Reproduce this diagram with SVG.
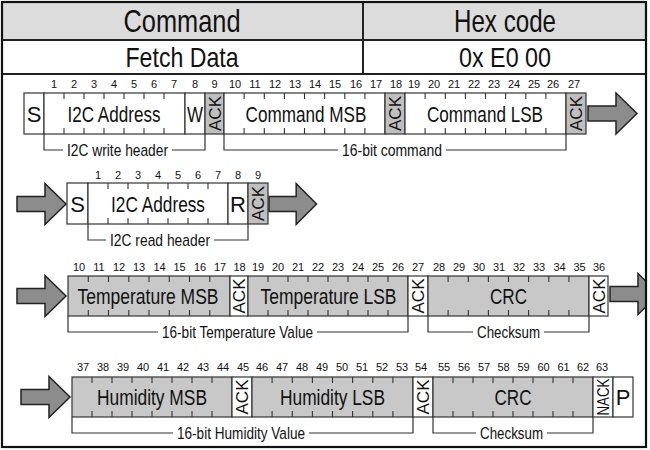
<svg xmlns="http://www.w3.org/2000/svg" width="650" height="450" viewBox="0 0 650 450">
<style>
text{font-family:"Liberation Sans Narrow","Liberation Sans",Arial,sans-serif;fill:#111}
.hd{font-size:32px;text-anchor:middle}
.hd2{font-size:28px;text-anchor:middle}
.lbl{font-size:22px;text-anchor:middle}
.num{font-size:11px;text-anchor:middle}
.ack{font-size:17px;text-anchor:middle}
.br{font-size:17px;text-anchor:middle}
.cw{fill:#fff;stroke:#333;stroke-width:1.2}
.cg{fill:#bfbfbf;stroke:#333;stroke-width:1.2}
.cf{fill:#c8c8c8;stroke:#333;stroke-width:1.2}
.tk{fill:none;stroke:#333;stroke-width:1.1}
.bl{fill:none;stroke:#333;stroke-width:1.2}
.ar{fill:#8c8c8c;stroke:#222;stroke-width:1.5;stroke-linejoin:miter}
</style>
<defs>
<path id="arrow" d="M0,-7.5 H28 V-20.5 L49,0 L28,20.5 V7.5 H0 Z"/>
<clipPath id="frameclip"><rect x="2" y="2" width="644" height="445"/></clipPath>
</defs>
<rect x="0" y="0" width="650" height="450" fill="#fff"/>

<g id="table">
<rect x="2" y="2" width="644" height="38" fill="#dcdcdc"/>
<line x1="2" y1="40" x2="646" y2="40" stroke="#222" stroke-width="2"/>
<line x1="2" y1="74" x2="646" y2="74" stroke="#222" stroke-width="2"/>
<line x1="363" y1="2" x2="363" y2="74" stroke="#222" stroke-width="2"/>
<text class="hd" x="182" y="32" textLength="117" lengthAdjust="spacingAndGlyphs">Command</text>
<text class="hd" x="505" y="32" textLength="102" lengthAdjust="spacingAndGlyphs">Hex code</text>
<text class="hd2" x="182" y="67" textLength="113" lengthAdjust="spacingAndGlyphs">Fetch Data</text>
<text class="hd2" x="505" y="67" textLength="92" lengthAdjust="spacingAndGlyphs">0x E0 00</text>
</g>

<g id="connectors">
<g clip-path="url(#frameclip)">
<use href="#arrow" class="ar" transform="translate(588,113.5)"/>
<use href="#arrow" class="ar" transform="translate(17,204)"/>
<use href="#arrow" class="ar" transform="translate(269,204) scale(0.97,1)"/>
<use href="#arrow" class="ar" transform="translate(17,296)"/>
<use href="#arrow" class="ar" transform="translate(610,294)"/>
<use href="#arrow" class="ar" transform="translate(21,397)"/>
</g>
<path class="bl" d="M44,134 V150 H63 M172,150 H205 V134"/>
<path class="bl" d="M224,134 V150 H338 M446,150 H566 V134"/>
<path class="bl" d="M88,224 V240 H106 M214,240 H248 V224"/>
<path class="bl" d="M68,316 V332 H158 M317,332 H408 V316"/>
<path class="bl" d="M428,316 V332 H473 M544,332 H589 V316"/>
<path class="bl" d="M72,417 V433 H173 M309,433 H413 V417"/>
<path class="bl" d="M433,417 V433 H476 M547,433 H593 V417"/>
<text class="br" x="117.5" y="156" textLength="101" lengthAdjust="spacingAndGlyphs">I2C write header</text>
<text class="br" x="392" y="156" textLength="100" lengthAdjust="spacingAndGlyphs">16-bit command</text>
<text class="br" x="160" y="246" textLength="100" lengthAdjust="spacingAndGlyphs">I2C read header</text>
<text class="br" x="237.5" y="338" textLength="151" lengthAdjust="spacingAndGlyphs">16-bit Temperature Value</text>
<text class="br" x="508.5" y="338" textLength="63" lengthAdjust="spacingAndGlyphs">Checksum</text>
<text class="br" x="241" y="439" textLength="128" lengthAdjust="spacingAndGlyphs">16-bit Humidity Value</text>
<text class="br" x="511.5" y="439" textLength="63" lengthAdjust="spacingAndGlyphs">Checksum</text>
</g>

<!-- Row 1: write header + command -->
<g id="row1-start"><rect class="cw" x="24" y="93" width="20" height="41"/><text class="lbl" x="34" y="121.5">S</text></g>
<g id="row1-addr"><rect class="cw" x="44" y="93" width="141" height="41"/>
<path class="tk" d="M64,93v6M84,93v6M104,93v6M124,93v6M144,93v6M164,93v6M64,134v-6M84,134v-6M104,134v-6M124,134v-6M144,134v-6M164,134v-6"/>
<text class="lbl" x="114" y="121.5" textLength="93" lengthAdjust="spacingAndGlyphs">I2C Address</text></g>
<g id="row1-w"><rect class="cw" x="185" y="93" width="20" height="41"/><text class="lbl" x="195" y="121.5" textLength="16" lengthAdjust="spacingAndGlyphs">W</text></g>
<g id="row1-ack1"><rect class="cg" x="205" y="93" width="19" height="41"/><text class="ack" transform="translate(214.5,113.5) rotate(-90)" y="6" textLength="35" lengthAdjust="spacingAndGlyphs">ACK</text></g>
<g id="row1-msb"><rect class="cw" x="224" y="93" width="161" height="41"/>
<path class="tk" d="M244.1,93v6M264.3,93v6M284.4,93v6M304.5,93v6M324.6,93v6M344.8,93v6M364.9,93v6M244.1,134v-6M264.3,134v-6M284.4,134v-6M304.5,134v-6M324.6,134v-6M344.8,134v-6M364.9,134v-6"/>
<text class="lbl" x="306" y="121.5" textLength="121" lengthAdjust="spacingAndGlyphs">Command MSB</text></g>
<g id="row1-ack2"><rect class="cg" x="385" y="93" width="20" height="41"/><text class="ack" transform="translate(395,113.5) rotate(-90)" y="6" textLength="35" lengthAdjust="spacingAndGlyphs">ACK</text></g>
<g id="row1-lsb"><rect class="cw" x="405" y="93" width="161" height="41"/>
<path class="tk" d="M425.1,93v6M445.3,93v6M465.4,93v6M485.5,93v6M505.6,93v6M525.8,93v6M545.9,93v6M425.1,134v-6M445.3,134v-6M465.4,134v-6M485.5,134v-6M505.6,134v-6M525.8,134v-6M545.9,134v-6"/>
<text class="lbl" x="485" y="121.5" textLength="116" lengthAdjust="spacingAndGlyphs">Command LSB</text></g>
<g id="row1-ack3"><rect class="cg" x="566" y="93" width="20" height="41"/><text class="ack" transform="translate(576,113.5) rotate(-90)" y="6" textLength="35" lengthAdjust="spacingAndGlyphs">ACK</text></g>
<g id="row1-bits">
<text class="num" x="54" y="88">1</text><text class="num" x="74" y="88">2</text><text class="num" x="94" y="88">3</text><text class="num" x="114" y="88">4</text><text class="num" x="134" y="88">5</text><text class="num" x="154" y="88">6</text><text class="num" x="174" y="88">7</text><text class="num" x="195" y="88">8</text><text class="num" x="214.5" y="88">9</text>
<text class="num" x="235" y="88">10</text><text class="num" x="255" y="88">11</text><text class="num" x="275" y="88">12</text><text class="num" x="295" y="88">13</text><text class="num" x="315" y="88">14</text><text class="num" x="335" y="88">15</text><text class="num" x="356" y="88">16</text><text class="num" x="376" y="88">17</text><text class="num" x="396" y="88">18</text>
<text class="num" x="414" y="88">19</text><text class="num" x="434" y="88">20</text><text class="num" x="454" y="88">21</text><text class="num" x="474" y="88">22</text><text class="num" x="494" y="88">23</text><text class="num" x="514" y="88">24</text><text class="num" x="534" y="88">25</text><text class="num" x="553" y="88">26</text><text class="num" x="574" y="88">27</text>
</g>

<!-- Row 2: read header -->
<g id="row2-start"><rect class="cw" x="67" y="183" width="21" height="41"/><text class="lbl" x="77.5" y="211.5">S</text></g>
<g id="row2-addr"><rect class="cw" x="88" y="183" width="140" height="41"/>
<path class="tk" d="M108,183v6M128,183v6M148,183v6M168,183v6M188,183v6M208,183v6M108,224v-6M128,224v-6M148,224v-6M168,224v-6M188,224v-6M208,224v-6"/>
<text class="lbl" x="158" y="211.5" textLength="94" lengthAdjust="spacingAndGlyphs">I2C Address</text></g>
<g id="row2-r"><rect class="cw" x="228" y="183" width="20" height="41"/><text class="lbl" x="238" y="211.5">R</text></g>
<g id="row2-ack"><rect class="cg" x="248" y="183" width="20" height="41"/><text class="ack" transform="translate(258,203.5) rotate(-90)" y="6" textLength="35" lengthAdjust="spacingAndGlyphs">ACK</text></g>
<g id="row2-bits">
<text class="num" x="98" y="179">1</text><text class="num" x="118" y="179">2</text><text class="num" x="138" y="179">3</text><text class="num" x="158" y="179">4</text><text class="num" x="178" y="179">5</text><text class="num" x="198" y="179">6</text><text class="num" x="218" y="179">7</text><text class="num" x="238" y="179">8</text><text class="num" x="258" y="179">9</text>
</g>

<!-- Row 3: temperature -->
<g id="row3-msb"><rect class="cf" x="68" y="276" width="162" height="40"/>
<path class="tk" d="M88.3,276v6M108.5,276v6M128.8,276v6M149,276v6M169.3,276v6M189.5,276v6M209.8,276v6M88.3,316v-6M108.5,316v-6M128.8,316v-6M149,316v-6M169.3,316v-6M189.5,316v-6M209.8,316v-6"/>
<text class="lbl" x="148" y="304" textLength="141" lengthAdjust="spacingAndGlyphs">Temperature MSB</text></g>
<g id="row3-ack1"><rect class="cw" x="230" y="276" width="18" height="40"/><text class="ack" transform="translate(239,296) rotate(-90)" y="6" textLength="35" lengthAdjust="spacingAndGlyphs">ACK</text></g>
<g id="row3-lsb"><rect class="cf" x="248" y="276" width="160" height="40"/>
<path class="tk" d="M268,276v6M288,276v6M308,276v6M328,276v6M348,276v6M368,276v6M388,276v6M268,316v-6M288,316v-6M308,316v-6M328,316v-6M348,316v-6M368,316v-6M388,316v-6"/>
<text class="lbl" x="328.5" y="304" textLength="136" lengthAdjust="spacingAndGlyphs">Temperature LSB</text></g>
<g id="row3-ack2"><rect class="cw" x="408" y="276" width="20" height="40"/><text class="ack" transform="translate(418,296) rotate(-90)" y="6" textLength="35" lengthAdjust="spacingAndGlyphs">ACK</text></g>
<g id="row3-crc"><rect class="cf" x="428" y="276" width="161" height="40"/>
<path class="tk" d="M448.1,276v6M468.3,276v6M488.4,276v6M508.5,276v6M528.6,276v6M548.8,276v6M568.9,276v6M448.1,316v-6M468.3,316v-6M488.4,316v-6M508.5,316v-6M528.6,316v-6M548.8,316v-6M568.9,316v-6"/>
<text class="lbl" x="508.5" y="304" textLength="37" lengthAdjust="spacingAndGlyphs">CRC</text></g>
<g id="row3-ack3"><rect class="cw" x="589" y="276" width="19" height="40"/><text class="ack" transform="translate(598.5,296) rotate(-90)" y="6" textLength="35" lengthAdjust="spacingAndGlyphs">ACK</text></g>
<g id="row3-bits">
<text class="num" x="79" y="271">10</text><text class="num" x="99" y="271">11</text><text class="num" x="119" y="271">12</text><text class="num" x="139" y="271">13</text><text class="num" x="159.5" y="271">14</text><text class="num" x="179.5" y="271">15</text><text class="num" x="200" y="271">16</text><text class="num" x="220" y="271">17</text><text class="num" x="239.5" y="271">18</text>
<text class="num" x="258" y="271">19</text><text class="num" x="278" y="271">20</text><text class="num" x="298" y="271">21</text><text class="num" x="318" y="271">22</text><text class="num" x="338" y="271">23</text><text class="num" x="358" y="271">24</text><text class="num" x="378" y="271">25</text><text class="num" x="398" y="271">26</text><text class="num" x="418" y="271">27</text>
<text class="num" x="439" y="271">28</text><text class="num" x="459" y="271">29</text><text class="num" x="479" y="271">30</text><text class="num" x="499" y="271">31</text><text class="num" x="519" y="271">32</text><text class="num" x="539" y="271">33</text><text class="num" x="559.5" y="271">34</text><text class="num" x="579.5" y="271">35</text><text class="num" x="599" y="271">36</text>
</g>

<!-- Row 4: humidity -->
<g id="row4-msb"><rect class="cf" x="72" y="377" width="160" height="40"/>
<path class="tk" d="M92,377v6M112,377v6M132,377v6M152,377v6M172,377v6M192,377v6M212,377v6M92,417v-6M112,417v-6M132,417v-6M152,417v-6M172,417v-6M192,417v-6M212,417v-6"/>
<text class="lbl" x="152" y="405" textLength="110" lengthAdjust="spacingAndGlyphs">Humidity MSB</text></g>
<g id="row4-ack1"><rect class="cw" x="232" y="377" width="20" height="40"/><text class="ack" transform="translate(242,397) rotate(-90)" y="6" textLength="35" lengthAdjust="spacingAndGlyphs">ACK</text></g>
<g id="row4-lsb"><rect class="cf" x="252" y="377" width="161" height="40"/>
<path class="tk" d="M272.1,377v6M292.3,377v6M312.4,377v6M332.5,377v6M352.6,377v6M372.8,377v6M392.9,377v6M272.1,417v-6M292.3,417v-6M312.4,417v-6M332.5,417v-6M352.6,417v-6M372.8,417v-6M392.9,417v-6"/>
<text class="lbl" x="332.5" y="405" textLength="105" lengthAdjust="spacingAndGlyphs">Humidity LSB</text></g>
<g id="row4-ack2"><rect class="cw" x="413" y="377" width="20" height="40"/><text class="ack" transform="translate(423,397) rotate(-90)" y="6" textLength="35" lengthAdjust="spacingAndGlyphs">ACK</text></g>
<g id="row4-crc"><rect class="cf" x="433" y="377" width="160" height="40"/>
<path class="tk" d="M453,377v6M473,377v6M493,377v6M513,377v6M533,377v6M553,377v6M573,377v6M453,417v-6M473,417v-6M493,417v-6M513,417v-6M533,417v-6M553,417v-6M573,417v-6"/>
<text class="lbl" x="513" y="405" textLength="37" lengthAdjust="spacingAndGlyphs">CRC</text></g>
<g id="row4-nack"><rect class="cw" x="593" y="377" width="20" height="40"/><text class="ack" transform="translate(603,397) rotate(-90)" y="6" textLength="37" lengthAdjust="spacingAndGlyphs">NACK</text></g>
<g id="row4-stop"><rect class="cw" x="613" y="377" width="20" height="40"/><text class="lbl" x="623" y="405">P</text></g>
<g id="row4-bits">
<text class="num" x="83" y="371">37</text><text class="num" x="103" y="371">38</text><text class="num" x="123" y="371">39</text><text class="num" x="143" y="371">40</text><text class="num" x="163" y="371">41</text><text class="num" x="183" y="371">42</text><text class="num" x="203" y="371">43</text><text class="num" x="223" y="371">44</text><text class="num" x="243" y="371">45</text>
<text class="num" x="262" y="371">46</text><text class="num" x="282" y="371">47</text><text class="num" x="302" y="371">48</text><text class="num" x="322" y="371">49</text><text class="num" x="342" y="371">50</text><text class="num" x="362" y="371">51</text><text class="num" x="382" y="371">52</text><text class="num" x="402" y="371">53</text><text class="num" x="421" y="371">54</text>
<text class="num" x="444" y="371">55</text><text class="num" x="464" y="371">56</text><text class="num" x="484" y="371">57</text><text class="num" x="503.5" y="371">58</text><text class="num" x="523.5" y="371">59</text><text class="num" x="543.5" y="371">60</text><text class="num" x="563.5" y="371">61</text><text class="num" x="583" y="371">62</text><text class="num" x="602" y="371">63</text>
</g>

<rect id="frame" x="2" y="2" width="644" height="445" fill="none" stroke="#111" stroke-width="2.2"/>
</svg>
